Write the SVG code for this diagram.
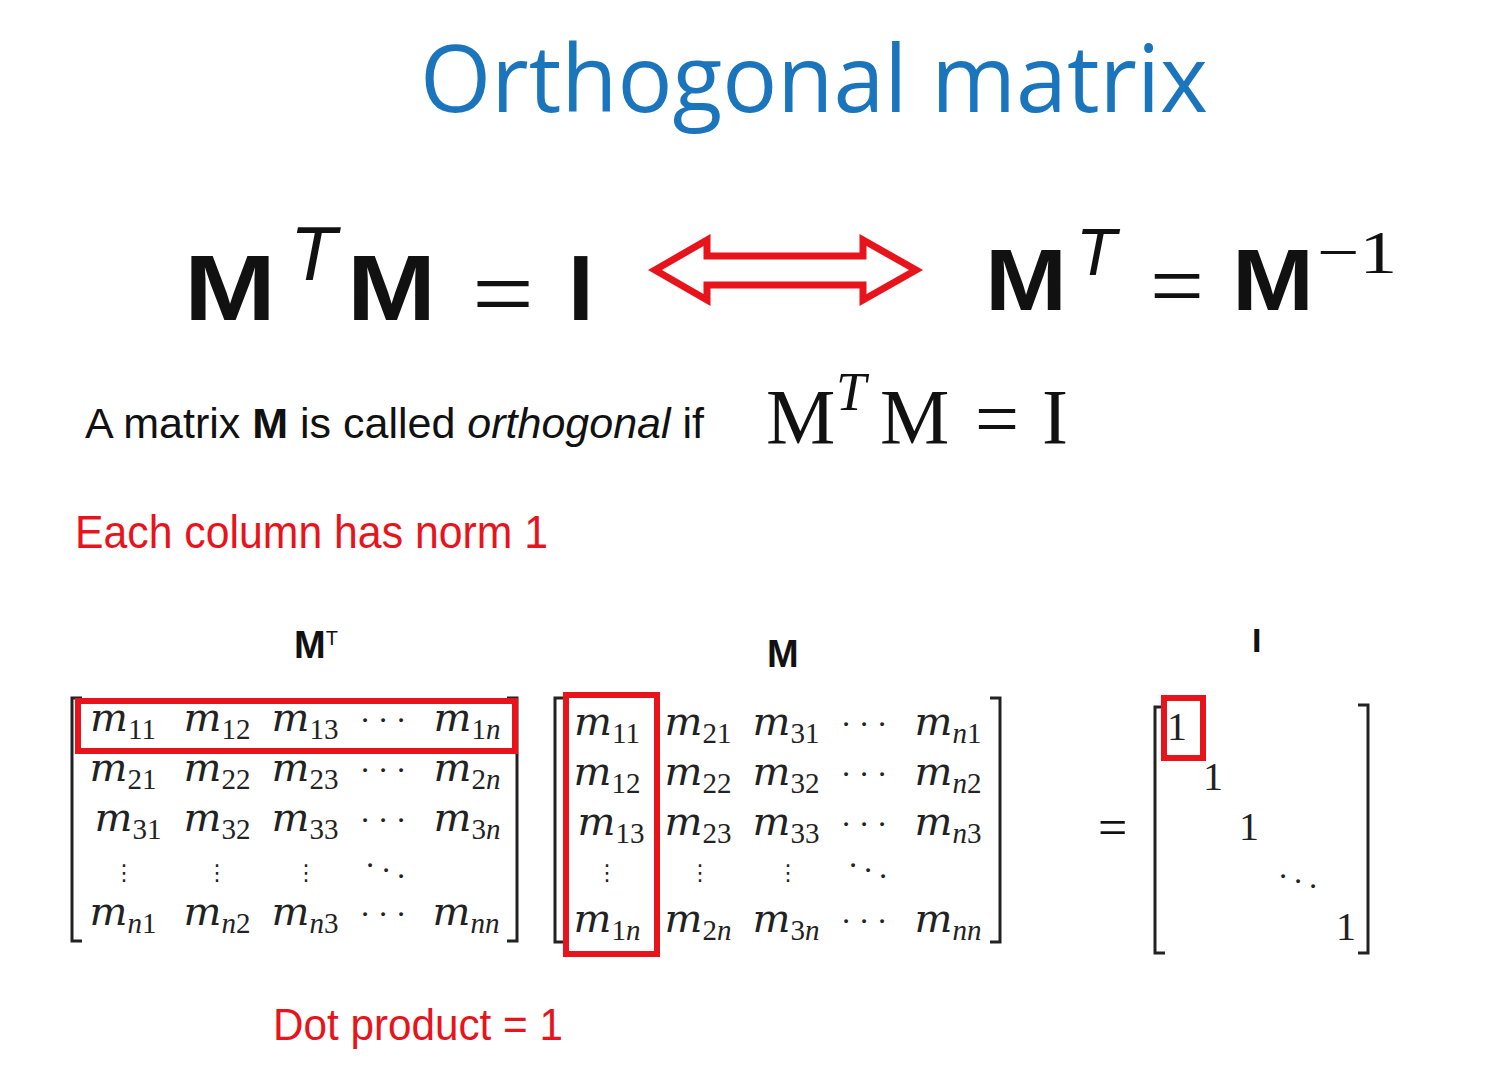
<svg xmlns="http://www.w3.org/2000/svg" width="1492" height="1076" viewBox="0 0 1492 1076">
<style>
.title{font-family:"Open Sans","Noto Sans",sans-serif;font-size:94px;fill:#1b75bc}
.bold{font-family:"Liberation Sans",Arial,sans-serif;font-weight:bold;fill:#111}
.sans{font-family:"Liberation Sans",Arial,sans-serif;fill:#111}
.red{fill:#e8141b}
.ser{font-family:"Liberation Serif","Times New Roman",serif;fill:#111}
.it{font-style:italic}
.cell{font-family:"DejaVu Serif",serif;font-size:40px;fill:#222;text-anchor:middle}
.mi{font-style:italic}
.sb{font-family:"Liberation Serif",serif;font-size:29px}
.dots{font-family:"Liberation Serif",serif;font-size:32px;fill:#222;text-anchor:middle}
.vd{font-family:"DejaVu Sans",sans-serif;font-size:22px;fill:#222;text-anchor:middle}
.one{font-family:"Liberation Serif",serif;font-size:40px;fill:#222;text-anchor:middle}
.brk{fill:none;stroke:#222;stroke-width:3}
.hl{fill:none;stroke:#e8141b;stroke-width:6}
</style>
<rect width="1492" height="1076" fill="#fff"/>

<g id="title"><text class="title" x="420" y="112" textLength="788" lengthAdjust="spacingAndGlyphs">Orthogonal matrix</text></g>

<!-- top equation pair -->
<g id="eq-left">
<text class="bold" font-size="92" x="184" y="320" textLength="92" lengthAdjust="spacingAndGlyphs">M</text>
<text class="sans it" font-size="76" x="290" y="280">T</text>
<text class="bold" font-size="92" x="347" y="320" textLength="89" lengthAdjust="spacingAndGlyphs">M</text>
<text class="ser" font-size="104" x="472" y="329" textLength="62" lengthAdjust="spacingAndGlyphs">=</text>
<text class="bold" font-size="92" x="568" y="320">I</text>
</g>
<g id="connectors">
<polygon id="iff-arrow" points="655,270 707,240 707,256 863,256 863,240 916,270 863,300 863,285 707,285 707,300" fill="none" stroke="#e8141b" stroke-width="7"/>
</g>
<g id="eq-right">
<text class="bold" font-size="88" x="985" y="310" textLength="82" lengthAdjust="spacingAndGlyphs">M</text>
<text class="sans it" font-size="66" x="1076" y="275">T</text>
<text class="ser" font-size="96" x="1150" y="318" textLength="54" lengthAdjust="spacingAndGlyphs">=</text>
<text class="bold" font-size="88" x="1232" y="310" textLength="82" lengthAdjust="spacingAndGlyphs">M</text>
<text class="ser" font-size="62" x="1317" y="273" textLength="80" lengthAdjust="spacingAndGlyphs">−1</text>
</g>

<!-- definition line -->
<g id="definition">
<text class="sans" font-size="43" x="85" y="438">A matrix <tspan font-weight="bold">M</tspan> is called <tspan font-style="italic">orthogonal</tspan> if</text>
<text class="ser" font-size="78" x="766" y="443">M</text>
<text class="ser it" font-size="54" x="836" y="410">T</text>
<text class="ser" font-size="78" x="880" y="443">M</text>
<text class="ser" font-size="78" x="975" y="445">=</text>
<text class="ser" font-size="78" x="1042" y="443">I</text>
</g>

<g id="norm-note"><text class="sans red" font-size="46" x="75" y="548" textLength="473" lengthAdjust="spacingAndGlyphs">Each column has norm 1</text></g>

<!-- M transpose -->
<g id="matrix-mt">
<text class="bold" font-size="38" x="294" y="658">M<tspan font-weight="normal" font-size="20" dy="-13">T</tspan></text>
<path class="brk" d="M82 698H72V941H82M507 698H517V941H507"/>
<text class="cell" x="123" y="731"><tspan class="mi">m</tspan><tspan class="sb" dy="8">11</tspan></text>
<text class="cell" x="217" y="731"><tspan class="mi">m</tspan><tspan class="sb" dy="8">12</tspan></text>
<text class="cell" x="305" y="731"><tspan class="mi">m</tspan><tspan class="sb" dy="8">13</tspan></text>
<text class="dots" x="365 383 401" y="731">···</text>
<text class="cell" x="467" y="731"><tspan class="mi">m</tspan><tspan class="sb" dy="8">1<tspan class="mi">n</tspan></tspan></text>
<text class="cell" x="123" y="781"><tspan class="mi">m</tspan><tspan class="sb" dy="8">21</tspan></text>
<text class="cell" x="217" y="781"><tspan class="mi">m</tspan><tspan class="sb" dy="8">22</tspan></text>
<text class="cell" x="305" y="781"><tspan class="mi">m</tspan><tspan class="sb" dy="8">23</tspan></text>
<text class="dots" x="365 383 401" y="781">···</text>
<text class="cell" x="467" y="781"><tspan class="mi">m</tspan><tspan class="sb" dy="8">2<tspan class="mi">n</tspan></tspan></text>
<text class="cell" x="128" y="831"><tspan class="mi">m</tspan><tspan class="sb" dy="8">31</tspan></text>
<text class="cell" x="217" y="831"><tspan class="mi">m</tspan><tspan class="sb" dy="8">32</tspan></text>
<text class="cell" x="305" y="831"><tspan class="mi">m</tspan><tspan class="sb" dy="8">33</tspan></text>
<text class="dots" x="365 383 401" y="831">···</text>
<text class="cell" x="467" y="831"><tspan class="mi">m</tspan><tspan class="sb" dy="8">3<tspan class="mi">n</tspan></tspan></text>
<text class="vd" x="124" y="880">⋮</text>
<text class="vd" x="217" y="880">⋮</text>
<text class="vd" x="306" y="880">⋮</text>
<text class="dots" x="370 386 401" y="876 881 887">···</text>
<text class="cell" x="123" y="925"><tspan class="mi">m</tspan><tspan class="sb" dy="8"><tspan class="mi">n</tspan>1</tspan></text>
<text class="cell" x="217" y="925"><tspan class="mi">m</tspan><tspan class="sb" dy="8"><tspan class="mi">n</tspan>2</tspan></text>
<text class="cell" x="305" y="925"><tspan class="mi">m</tspan><tspan class="sb" dy="8"><tspan class="mi">n</tspan>3</tspan></text>
<text class="dots" x="365 383 401" y="925">···</text>
<text class="cell" x="466" y="925"><tspan class="mi">m</tspan><tspan class="sb" dy="8"><tspan class="mi">nn</tspan></tspan></text>
<rect class="hl" x="78" y="701" width="437" height="50"/>
</g>

<!-- M -->
<g id="matrix-m">
<text class="bold" font-size="38" x="767" y="667">M</text>
<path class="brk" d="M565 698H555V942H565M990 698H1000V942H990"/>
<text class="cell" x="607" y="735"><tspan class="mi">m</tspan><tspan class="sb" dy="8">11</tspan></text>
<text class="cell" x="698" y="735"><tspan class="mi">m</tspan><tspan class="sb" dy="8">21</tspan></text>
<text class="cell" x="786" y="735"><tspan class="mi">m</tspan><tspan class="sb" dy="8">31</tspan></text>
<text class="dots" x="846 864 882" y="735">···</text>
<text class="cell" x="948" y="735"><tspan class="mi">m</tspan><tspan class="sb" dy="8"><tspan class="mi">n</tspan>1</tspan></text>
<text class="cell" x="607" y="785"><tspan class="mi">m</tspan><tspan class="sb" dy="8">12</tspan></text>
<text class="cell" x="698" y="785"><tspan class="mi">m</tspan><tspan class="sb" dy="8">22</tspan></text>
<text class="cell" x="786" y="785"><tspan class="mi">m</tspan><tspan class="sb" dy="8">32</tspan></text>
<text class="dots" x="846 864 882" y="785">···</text>
<text class="cell" x="948" y="785"><tspan class="mi">m</tspan><tspan class="sb" dy="8"><tspan class="mi">n</tspan>2</tspan></text>
<text class="cell" x="611" y="835"><tspan class="mi">m</tspan><tspan class="sb" dy="8">13</tspan></text>
<text class="cell" x="698" y="835"><tspan class="mi">m</tspan><tspan class="sb" dy="8">23</tspan></text>
<text class="cell" x="786" y="835"><tspan class="mi">m</tspan><tspan class="sb" dy="8">33</tspan></text>
<text class="dots" x="846 864 882" y="835">···</text>
<text class="cell" x="948" y="835"><tspan class="mi">m</tspan><tspan class="sb" dy="8"><tspan class="mi">n</tspan>3</tspan></text>
<text class="vd" x="607" y="880">⋮</text>
<text class="vd" x="700" y="880">⋮</text>
<text class="vd" x="788" y="880">⋮</text>
<text class="dots" x="853 868 883" y="876 881 887">···</text>
<text class="cell" x="607" y="932"><tspan class="mi">m</tspan><tspan class="sb" dy="8">1<tspan class="mi">n</tspan></tspan></text>
<text class="cell" x="698" y="932"><tspan class="mi">m</tspan><tspan class="sb" dy="8">2<tspan class="mi">n</tspan></tspan></text>
<text class="cell" x="786" y="932"><tspan class="mi">m</tspan><tspan class="sb" dy="8">3<tspan class="mi">n</tspan></tspan></text>
<text class="dots" x="846 864 882" y="932">···</text>
<text class="cell" x="948" y="932"><tspan class="mi">m</tspan><tspan class="sb" dy="8"><tspan class="mi">nn</tspan></tspan></text>
<rect class="hl" x="566" y="695" width="91" height="259"/>
</g>

<!-- identity -->
<g id="matrix-i">
<text class="bold" font-size="34" x="1252" y="652">I</text>
<text class="ser" font-size="52" x="1098" y="845">=</text>
<path class="brk" d="M1165 707H1155V953H1165M1358 705H1368V953H1358"/>
<text class="one" x="1177" y="740">1</text>
<text class="one" x="1213" y="790">1</text>
<text class="one" x="1249" y="840">1</text>
<text class="dots" x="1283 1298 1313" y="887 892 897">···</text>
<text class="one" x="1346" y="940">1</text>
<rect class="hl" x="1164" y="698" width="39" height="60"/>
</g>

<g id="dot-note"><text class="sans red" font-size="44" x="273" y="1040" textLength="290" lengthAdjust="spacingAndGlyphs">Dot product = 1</text></g>
</svg>
